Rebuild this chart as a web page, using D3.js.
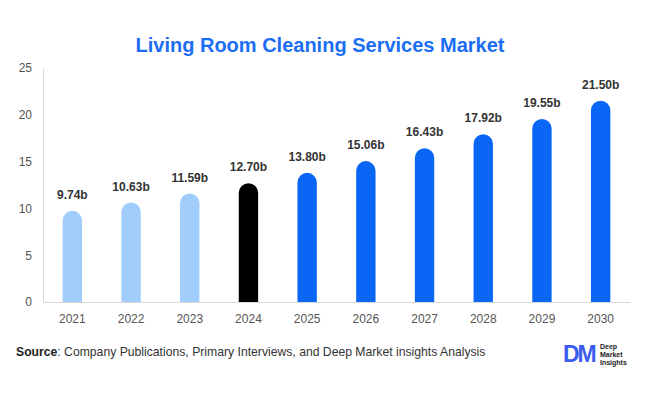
<!DOCTYPE html>
<html>
<head>
<meta charset="utf-8">
<script src="https://cdn.jsdelivr.net/npm/d3@7"></script>
<style>
body { margin: 0; background: #fff; }
svg { font-family: "Liberation Sans", Arial, sans-serif; }
</style>
</head>
<body>
<script>
var years = ["2021", "2022", "2023", "2024", "2025", "2026", "2027", "2028", "2029", "2030"];
var values = [9.74, 10.63, 11.59, 12.70, 13.80, 15.06, 16.43, 17.92, 19.55, 21.50];
var labels = ["9.74b", "10.63b", "11.59b", "12.70b", "13.80b", "15.06b", "16.43b", "17.92b", "19.55b", "21.50b"];
var yTicks = [0, 5, 10, 15, 20, 25];

var width = 646, height = 394;
var margin = {top: 68, right: 16, bottom: 92, left: 43};

var svg = d3.select("body").append("svg")
    .attr("width", width)
    .attr("height", height);

var xScale = d3.scaleBand().domain(years).range([margin.left, width - margin.right]).paddingInner(0.67).paddingOuter(0.335);
var yScale = d3.scaleLinear().domain([0, 25]).range([height - margin.bottom, margin.top]);

function barColor(i) {
    if (i < 3) return "#a0cdfb";
    if (i === 3) return "#000000";
    return "#0a66f5";
}

// title
svg.append("text")
    .attr("x", 320).attr("y", 52)
    .attr("text-anchor", "middle")
    .attr("font-size", 20).attr("font-weight", "bold")
    .attr("fill", "#1b6ef3")
    .text("Living Room Cleaning Services Market");

// axes
var yAxis = svg.append("g")
    .attr("transform", "translate(" + margin.left + ",0)")
    .call(d3.axisLeft(yScale).tickValues(yTicks).tickSize(0).tickPadding(11));
yAxis.select(".domain").attr("stroke", "#d9d9d9");
yAxis.selectAll("text").attr("font-size", 12).attr("fill", "#555").attr("font-family", "Liberation Sans, Arial, sans-serif");

var xAxis = svg.append("g")
    .attr("transform", "translate(0," + yScale(0) + ")")
    .call(d3.axisBottom(xScale).tickSize(0).tickPadding(12));
xAxis.select(".domain").attr("stroke", "#d9d9d9");
xAxis.selectAll("text").attr("font-size", 12).attr("fill", "#555").attr("font-family", "Liberation Sans, Arial, sans-serif");

// bars with rounded tops
svg.append("g").selectAll("path")
    .data(values)
    .enter().append("path")
    .attr("d", function(d, i) {
        var x0 = xScale(years[i]), w = xScale.bandwidth(), r = w / 2;
        var y0 = yScale(0), yt = yScale(d);
        return "M" + x0 + "," + y0 +
            "L" + x0 + "," + (yt + r) +
            "A" + r + "," + r + " 0 0 1 " + (x0 + w) + "," + (yt + r) +
            "L" + (x0 + w) + "," + y0 + "Z";
    })
    .attr("fill", function(d, i) { return barColor(i); });

// value labels
svg.append("g").selectAll("text")
    .data(values)
    .enter().append("text")
    .attr("x", function(d, i) { return xScale(years[i]) + xScale.bandwidth() / 2; })
    .attr("y", function(d) { return yScale(d) - 12; })
    .attr("text-anchor", "middle")
    .attr("font-size", 12).attr("font-weight", "bold")
    .attr("fill", "#333")
    .text(function(d, i) { return labels[i]; });

// source line
var src = svg.append("text")
    .attr("x", 16).attr("y", 356)
    .attr("font-size", 12.2).attr("fill", "#333");
src.append("tspan").attr("font-weight", "bold").attr("fill", "#222").text("Source");
src.append("tspan").text(": Company Publications, Primary Interviews, and Deep Market insights Analysis");

// logo
var logo = svg.append("g").attr("transform", "translate(563,343)");
logo.append("text").attr("x", 0).attr("y", 19)
    .attr("font-size", 23).attr("font-weight", "bold").attr("fill", "#3b5cf0")
    .attr("letter-spacing", -2)
    .text("DM");
logo.append("text").attr("x", 37).attr("y", 6).attr("font-size", 7).attr("font-weight", "bold").attr("fill", "#222").text("Deep");
logo.append("text").attr("x", 37).attr("y", 14).attr("font-size", 7).attr("font-weight", "bold").attr("fill", "#222").text("Market");
logo.append("text").attr("x", 37).attr("y", 22).attr("font-size", 7).attr("font-weight", "bold").attr("fill", "#222").text("Insights");
</script>
</body>
</html>
